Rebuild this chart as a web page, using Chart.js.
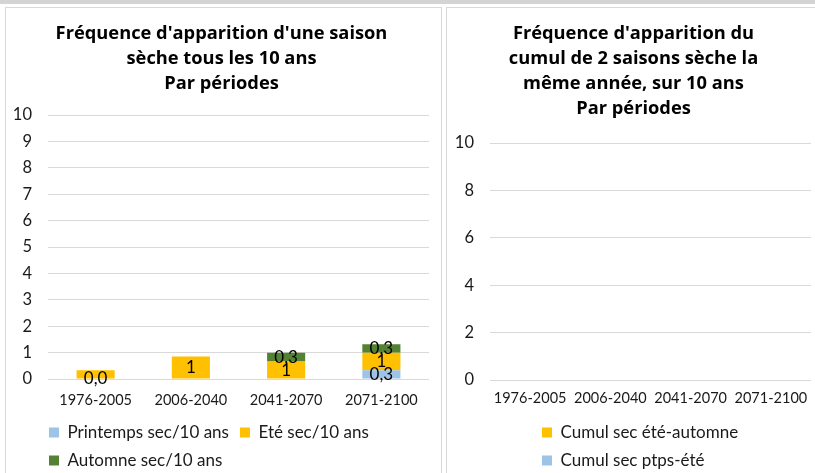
<!DOCTYPE html>
<html>
<head>
<meta charset="utf-8">
<script src="https://cdn.jsdelivr.net/npm/chart.js@4.4.0/dist/chart.umd.min.js"></script>
<style>
  html, body { margin: 0; padding: 0; }
  body { width: 815px; height: 473px; overflow: hidden; background: #fff; position: relative; }
  #strip { position: absolute; left: 0; top: 0; width: 815px; height: 4px; background: #d4d4d4; }
  .panel { position: absolute; top: 7px; border: 1px solid #d9d9d9; background: #fff; overflow: hidden; }
  #p1 { left: 5px; width: 435px; height: 485px; }
  #p2 { left: 446px; width: 368px; height: 485px; }
  canvas { display: block; }
</style>
</head>
<body>
<div id="strip"></div>
<div class="panel" id="p1"><canvas id="c1" width="435" height="479"></canvas></div>
<div class="panel" id="p2"><canvas id="c2" width="368" height="474"></canvas></div>
<script>
// ---- data ----
const categories = ["1976-2005", "2006-2040", "2041-2070", "2071-2100"];
const printemps = [0, 0, 0, 0.33];
const ete = [0.33, 0.85, 0.66, 0.66];
const automne = [0, 0, 0.33, 0.33];
const printempsLabelShown = [true, false, false, true];
const eteLabelShown = [false, true, true, true];
const automneLabelShown = [false, false, true, true];
const cumulEteAutomne = [0, 0, 0, 0];
const cumulPtpsEte = [0, 0, 0, 0];
const titleLeft = ["Fréquence d'apparition d'une saison", "sèche tous les 10 ans", "Par périodes"];
const titleRight = ["Fréquence d'apparition du", "cumul de 2 saisons sèche la", "même année, sur 10 ans", "Par périodes"];

const FONT = "Lato, 'Open Sans', sans-serif";
const TFONT = "'Open Sans', Lato, sans-serif";
const TXT = "#1a1a1a";
const GRID = "#d9d9d9";

const valueLabels = {
  id: 'valueLabels',
  afterDatasetsDraw(chart) {
    const ctx = chart.ctx;
    chart.data.datasets.forEach((ds, i) => {
      if (!ds.labelShown) return;
      const meta = chart.getDatasetMeta(i);
      meta.data.forEach((bar, j) => {
        if (!ds.labelShown[j]) return;
        const p = bar.getProps(['x', 'y', 'base'], true);
        const txt = ds.data[j].toFixed(ds.labelDecimals).replace('.', ',');
        ctx.save();
        ctx.font = "17px " + FONT;
        ctx.fillStyle = "#000";
        ctx.textAlign = 'center';
        ctx.textBaseline = 'middle';
        ctx.fillText(txt, p.x, (p.y + p.base) / 2);
        ctx.restore();
      });
    });
  }
};

const legendShift = {
  id: 'legendShift',
  afterLayout(chart, args, opts) {
    const L = chart.legend;
    if (!L) return;
    if (opts.left !== undefined) { const dx = opts.left - L.left; L.left += dx; L.right += dx; }
    if (opts.top !== undefined) { const dy = opts.top - L.top; L.top += dy; L.bottom += dy; }
  }
};

function makeOptions(cfg) {
  return {
    responsive: false,
    animation: false,
    layout: { padding: { left: cfg.padLeft, right: cfg.padRight, top: 0, bottom: 0 } },
    scales: {
      x: {
        stacked: true,
        grid: { display: false, drawTicks: false },
        border: { display: false },
        ticks: { color: TXT, font: { family: FONT, size: 14.5, lineHeight: cfg.xLineHeight }, padding: cfg.xPad, maxRotation: 0, minRotation: 0, autoSkip: false }
      },
      y: {
        stacked: true,
        min: 0, max: 10,
        grid: { color: GRID, lineWidth: 1, drawTicks: false },
        border: { display: false },
        ticks: { stepSize: cfg.step, color: TXT, font: { family: FONT, size: 16.5 }, padding: 16 },
        afterFit(s) { s.width = 34; }
      }
    },
    plugins: {
      title: {
        display: true,
        text: cfg.title,
        color: "#000",
        font: { family: TFONT, size: 18.3, weight: 'bold', lineHeight: '25px' },
        padding: { top: 13.5, bottom: cfg.titleBottom }
      },
      legend: {
        position: 'bottom',
        align: 'start',
        labels: { boxWidth: 10, boxHeight: 10, padding: 11, color: TXT, font: { family: FONT, size: 17 } }
      },
      legendShift: { left: cfg.legendLeft, top: cfg.legendTop },
      tooltip: { enabled: false }
    }
  };
}

new Chart(document.getElementById('c1'), {
  type: 'bar',
  data: {
    labels: categories,
    datasets: [
      { label: "Printemps sec/10 ans", data: printemps, backgroundColor: "#9dc3e6", labelShown: printempsLabelShown, labelDecimals: 1, barPercentage: 0.4, categoryPercentage: 1 },
      { label: "Eté sec/10 ans", data: ete, backgroundColor: "#ffc000", labelShown: eteLabelShown, labelDecimals: 0, barPercentage: 0.4, categoryPercentage: 1 },
      { label: "Automne sec/10 ans", data: automne, backgroundColor: "#548235", labelShown: automneLabelShown, labelDecimals: 1, barPercentage: 0.4, categoryPercentage: 1 }
    ]
  },
  options: makeOptions({ padLeft: 8, padRight: 12, title: titleLeft, titleBottom: 18.5, step: 1, xPad: 6, xLineHeight: '30px', legendLeft: 32, legendTop: 405 }),
  plugins: [valueLabels, legendShift]
});

new Chart(document.getElementById('c2'), {
  type: 'bar',
  data: {
    labels: categories,
    datasets: [
      { label: "Cumul sec été-automne", data: cumulEteAutomne, backgroundColor: "#ffc000", barPercentage: 0.4, categoryPercentage: 1 },
      { label: "Cumul sec ptps-été", data: cumulPtpsEte, backgroundColor: "#9dc3e6", barPercentage: 0.4, categoryPercentage: 1 }
    ]
  },
  options: makeOptions({ padLeft: 9, padRight: 4, title: titleRight, titleBottom: 21.5, step: 2, xPad: 4, xLineHeight: '28px', legendLeft: 84, legendTop: 405 }),
  plugins: [valueLabels, legendShift]
});
</script>
</body>
</html>
